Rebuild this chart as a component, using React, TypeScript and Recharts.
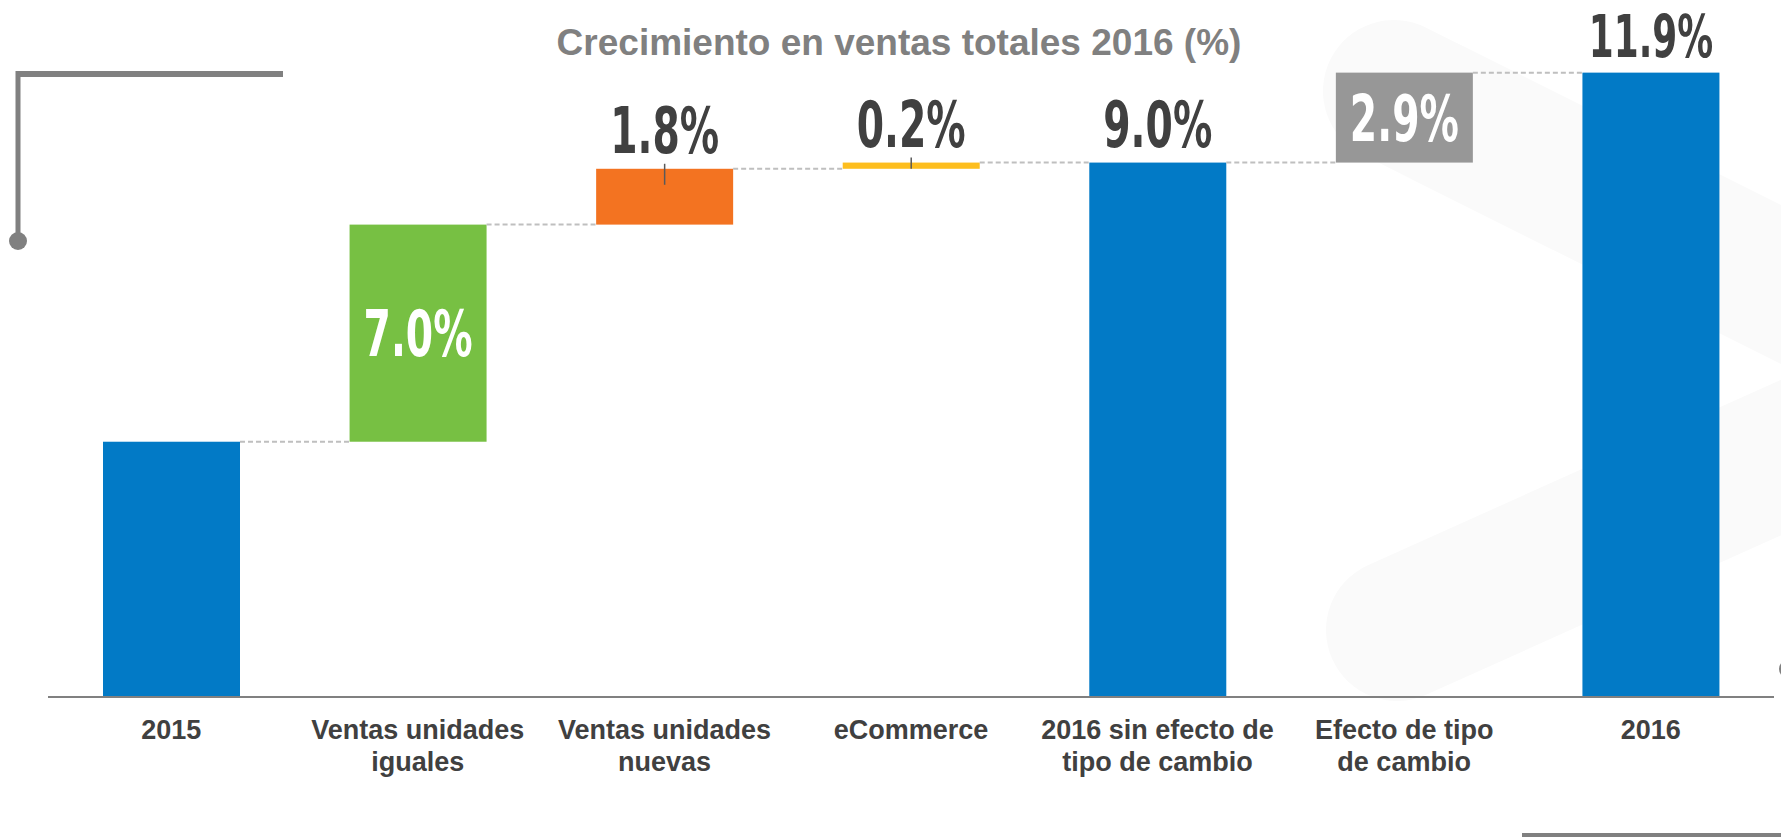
import React from 'react';
import { BarChart, Bar, XAxis, YAxis, LabelList } from 'recharts';

const categories = [
  '2015',
  'Ventas unidades iguales',
  'Ventas unidades nuevas',
  'eCommerce',
  '2016 sin efecto de tipo de cambio',
  'Efecto de tipo de cambio',
  '2016',
];
const tickLines = [
  ['2015'],
  ['Ventas unidades', 'iguales'],
  ['Ventas unidades', 'nuevas'],
  ['eCommerce'],
  ['2016 sin efecto de', 'tipo de cambio'],
  ['Efecto de tipo', 'de cambio'],
  ['2016'],
];
const kinds = ['total', 'delta', 'delta', 'delta', 'total', 'delta', 'total'];
// growth in % against 2015
const growth = [0, 7.0, 1.8, 0.2, 9.0, 2.9, 11.9];
const valueLabels = ['', '7.0%', '1.8%', '0.2%', '9.0%', '2.9%', '11.9%'];

const BASE = 100; // 2015 = 100
const Y_MIN = 91.77;
const Y_MAX = 113.5;

const W = 1781;
const H = 837;
const MARGIN = { top: 23, right: 7, left: 48, bottom: 40 };
const BAND = (W - MARGIN.left - MARGIN.right) / categories.length;

const barColors = ['#027AC6', '#77C043', '#F37321', '#FDBE1E', '#027AC6', '#979797', '#027AC6'];
const labelFont = "'Liberation Sans Narrow', 'Arial Narrow', 'DejaVu Sans Condensed', sans-serif";
const textFont = "'Liberation Sans', Arial, sans-serif";

const LABEL_SIZE = 56;
const LABEL_SX = 0.78;
const LABEL_SY = 1.15;
const ASCENT = 0.93; // DejaVu ascent per em

let running = 0;
const data = categories.map((name, i) => {
  let value: number | number[];
  if (kinds[i] === 'total') {
    running = growth[i];
    value = BASE + growth[i];
  } else {
    value = [BASE + running, BASE + running + growth[i]];
    running += growth[i];
  }
  return { name, value, label: valueLabels[i] };
});

const WaterfallBar = (props: any) => {
  const { x, y, width, height, index } = props;
  const small = kinds[index] === 'delta' && height < 70;
  return (
    <g>
      <rect x={x} y={y} width={width} height={height} fill={barColors[index]} />
      {index < data.length - 1 && (
        <line x1={x + width} x2={x + BAND} y1={y} y2={y} stroke="#BFBFBF" strokeWidth={2} strokeDasharray="5 3" />
      )}
      {small && (
        <line x1={x + width / 2} x2={x + width / 2} y1={y - 5} y2={Math.min(y + 16, y + height)} stroke="#595959" strokeWidth={1.5} />
      )}
    </g>
  );
};

const ValueLabel = (props: any) => {
  const { x, y, width, height, index, value } = props;
  if (!value) return null;
  const cx = x + width / 2;
  const inside = kinds[index] === 'delta' && height > 70;
  const by = inside ? y + height / 2 + 23 : y - 16;
  // shrink labels that would run off the top of the picture
  const ascentPx = ASCENT * LABEL_SIZE * LABEL_SY;
  const f = Math.min(1, (by - 2) / ascentPx);
  return (
    <text
      x={cx}
      y={by}
      textAnchor="middle"
      fill={inside ? '#FFFFFF' : '#404040'}
      fontFamily={labelFont}
      fontWeight="bold"
      fontSize={LABEL_SIZE}
      transform={`translate(${cx},${by}) scale(${LABEL_SX * f},${LABEL_SY * f}) translate(${-cx},${-by})`}
    >
      {value}
    </text>
  );
};

const CategoryTick = (props: any) => {
  const { x, y, payload } = props;
  const lines = tickLines[categories.indexOf(payload.value)] || [payload.value];
  return (
    <text x={x} y={y} textAnchor="middle" fill="#404040" fontFamily={textFont} fontWeight="bold" fontSize={27}>
      {lines.map((l, i) => (
        <tspan key={i} x={x} dy={i === 0 ? 42 : 32}>{l}</tspan>
      ))}
    </text>
  );
};

export default function App() {
  return (
    <div style={{ position: 'absolute', left: 0, top: 0, width: W, height: H, background: '#fff' }}>
      <svg width={W} height={H} style={{ position: 'absolute', left: 0, top: 0 }}>
        {/* faint logo watermark */}
        <line x1={1394} y1={91} x2={1820} y2={304} stroke="#FAFAFA" strokeWidth={142} strokeLinecap="round" />
        <line x1={1397} y1={630} x2={1820} y2={440} stroke="#FAFAFA" strokeWidth={142} strokeLinecap="round" />
        <text x={899} y={55} textAnchor="middle" fill="#808080" fontFamily={textFont} fontWeight="bold" fontSize={37}>
          Crecimiento en ventas totales 2016 (%)
        </text>
      </svg>
      <div style={{ position: 'absolute', left: 0, top: 0 }}>
        <BarChart width={W} height={H} data={data} margin={MARGIN}>
          <XAxis
            dataKey="name"
            height={100}
            interval={0}
            tickLine={false}
            tickSize={0}
            tickMargin={0}
            axisLine={{ stroke: '#808080', strokeWidth: 2 }}
            tick={<CategoryTick />}
          />
          <YAxis hide type="number" domain={[Y_MIN, Y_MAX]} allowDataOverflow />
          <Bar dataKey="value" barSize={137} shape={<WaterfallBar />} isAnimationActive={false}>
            <LabelList dataKey="label" content={<ValueLabel />} />
          </Bar>
        </BarChart>
      </div>
      <svg width={W} height={H} style={{ position: 'absolute', left: 0, top: 0, pointerEvents: 'none' }}>
        <line x1={16} y1={74} x2={283} y2={74} stroke="#808080" strokeWidth={6} />
        <line x1={18} y1={71} x2={18} y2={241} stroke="#808080" strokeWidth={5} />
        <circle cx={18} cy={241} r={9} fill="#808080" />
        <line x1={1522} y1={835} x2={W} y2={835} stroke="#808080" strokeWidth={4} />
        <circle cx={1788} cy={669} r={9} fill="#808080" />
      </svg>
    </div>
  );
}
